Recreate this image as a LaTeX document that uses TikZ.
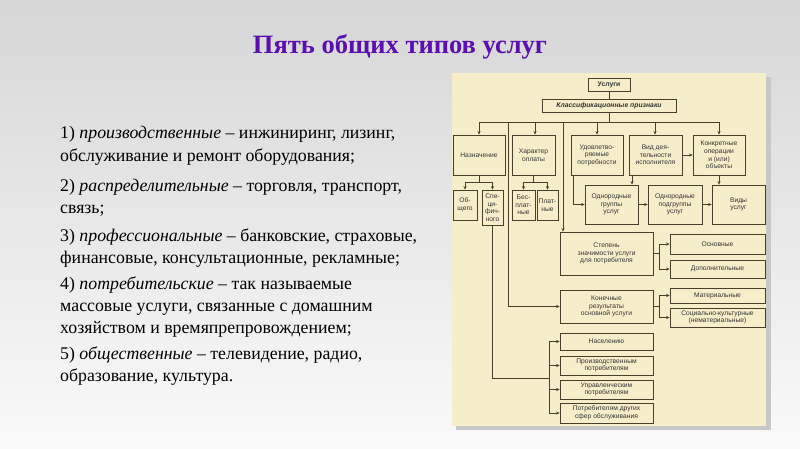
\documentclass[tikz,border=0pt]{standalone}
\usepackage{fontspec}
\setmainfont{Liberation Serif}
\newfontfamily\diagfont{Liberation Sans}
\usetikzlibrary{arrows.meta}
\definecolor{panel}{HTML}{F6EECB}
\definecolor{boxc}{HTML}{4A3F2A}
\definecolor{ttl}{HTML}{5A10B0}
\begin{document}
\begin{tikzpicture}[x=1pt,y=-1pt,
  box/.style={draw=boxc,fill=panel,line width=0.8pt,inner sep=0pt,align=center,
    font=\diagfont\fontsize{6.7}{7.6}\selectfont,text=black!80},
  ln/.style={draw=boxc,line width=0.8pt},
  ar/.style={ln,-{Stealth[length=3.5pt,width=3.2pt]}},
  txt/.style={anchor=base west,font=\fontsize{17.8}{20}\selectfont,inner sep=0pt}]
\useasboundingbox (0,0) rectangle (800,449);
\shade[top color=black!16,bottom color=black!2] (0,0) rectangle (800,449);
\fill[black!22] (766,77) rectangle (771,430);
\fill[black!22] (456,426) rectangle (771,430);
\fill[panel] (452,73) rectangle (766,426);
\node[font=\bfseries\fontsize{26.5}{30}\selectfont,text=ttl] (title) at (400,47) {Пять общих типов услуг};
\node[txt] (t1) at (60,139) {1) \textit{производственные} – инжиниринг, лизинг,};
\node[txt] (t2) at (60,162) {обслуживание и ремонт оборудования;};
\node[txt] (t3) at (60,192) {2) \textit{распределительные} – торговля, транспорт,};
\node[txt] (t4) at (60,214) {связь;};
\node[txt] (t5) at (60,241) {3) \textit{профессиональные} – банковские, страховые,};
\node[txt] (t6) at (60,263) {финансовые, консультационные, рекламные;};
\node[txt] (t7) at (60,289) {4) \textit{потребительские} – так называемые};
\node[txt] (t8) at (60,311) {массовые услуги, связанные с домашним};
\node[txt] (t9) at (60,333) {хозяйством и времяпрепровождением;};
\node[txt] (t10) at (60,359) {5) \textit{общественные} – телевидение, радио,};
\node[txt] (t11) at (60,381) {образование, культура.};
% boxes
\node[box,minimum width=42pt,minimum height=13pt,font=\diagfont\bfseries\fontsize{6.8}{7.6}\selectfont] (u) at (609,84.5) {Услуги};
\node[box,minimum width=134pt,minimum height=13pt,font=\diagfont\bfseries\itshape\fontsize{6.8}{7.6}\selectfont] (k) at (609,105.5) {Классификационные признаки};
\node[box,minimum width=52pt,minimum height=40pt] (naz) at (479,155) {Назначение};
\node[box,minimum width=43pt,minimum height=40pt] (har) at (533.5,155) {Характер\\оплаты};
\node[box,minimum width=52pt,minimum height=40pt] (udv) at (597,155) {Удовлетво-\\ряемые\\потребности};
\node[box,minimum width=53pt,minimum height=40pt] (vid) at (655.5,155) {Вид дея-\\тельности\\исполнителя};
\node[box,minimum width=52pt,minimum height=40pt] (kon) at (719,155) {Конкретные\\операции\\и (или)\\объекты};
\node[box,minimum width=24pt,minimum height=30pt] (ob) at (465,205) {Об-\\щего};
\node[box,minimum width=21pt,minimum height=35pt] (spec) at (492.5,207.5) {Спе-\\ци-\\фич-\\ного};
\node[box,minimum width=23pt,minimum height=30pt] (bes) at (523.5,205) {Бес-\\плат-\\ные};
\node[box,minimum width=21pt,minimum height=30pt] (pla) at (547.5,205) {Плат-\\ные};
\node[box,minimum width=53pt,minimum height=39pt] (grp) at (611.5,204.5) {Однородные\\группы\\услуг};
\node[box,minimum width=54pt,minimum height=39pt] (pod) at (675,204.5) {Однородные\\подгруппы\\услуг};
\node[box,minimum width=53pt,minimum height=39pt] (vidy) at (738.5,204.5) {Виды\\услуг};
\node[box,minimum width=93pt,minimum height=43pt] (st) at (606.5,253.5) {Степень\\значимости услуги\\для потребителя};
\node[box,minimum width=95pt,minimum height=20pt] (osn) at (717.5,244) {Основные};
\node[box,minimum width=95pt,minimum height=18pt] (dop) at (717.5,269) {Дополнительные};
\node[box,minimum width=93pt,minimum height=33pt] (kn) at (606.5,306.5) {Конечные\\результаты\\основной услуги};
\node[box,minimum width=95pt,minimum height=15pt] (mat) at (717.5,295.5) {Материальные};
\node[box,minimum width=95pt,minimum height=19pt] (soc) at (717.5,317.5) {Социально-культурные\\(нематериальные)};
\node[box,minimum width=93pt,minimum height=17pt] (nas) at (606.5,341.5) {Населению};
\node[box,minimum width=93pt,minimum height=19pt] (pr) at (606.5,365.5) {Производственным\\потребителям};
\node[box,minimum width=93pt,minimum height=19pt] (up) at (606.5,389.5) {Управленческим\\потребителям};
\node[box,minimum width=93pt,minimum height=20pt] (dr) at (606.5,413) {Потребителям других\\сфер обслуживания};
% coordinates
\coordinate (bL) at (479,122); \coordinate (bR) at (719,122);
\coordinate (bk) at (609,122);
\coordinate (c1) at (508,122); \coordinate (c2) at (563,122);
\coordinate (h1) at (535,122); \coordinate (h2) at (597,122); \coordinate (h3) at (655,122);
\coordinate (g1) at (632,175);
% connectors
\draw[ln] (u) -- (k);
\draw[ln] (k) -- (bk);
\draw[ln] (bL) -- (bR);
\draw[ar] (bL) -- (naz.north);
\draw[ar] (h1) -- (h1 |- har.north);
\draw[ar] (h2) -- (udv.north);
\draw[ar] (h3) -- (h3 |- vid.north);
\draw[ar] (bR) -- (kon.north);
\draw[ar] (c1) |- (kn.west);
\draw[ar] (c2) -- (c2 |- st.north);
\draw[ar] (vid.east) -- (kon.west);
\coordinate (n1) at (479,182); \coordinate (n2) at (533.5,182);
\draw[ln] (naz.south) -- (n1);
\draw[ln] (465,182) -- (492.5,182);
\draw[ar] (465,182) -- (ob.north);
\draw[ar] (492.5,182) -- (spec.north);
\draw[ln] (har.south) -- (n2);
\draw[ln] (523.5,182) -- (547.5,182);
\draw[ar] (523.5,182) -- (bes.north);
\draw[ar] (547.5,182) -- (pla.north);
\draw[ar] (573,175) |- (grp.west);
\draw[ar] (g1) -- (g1 |- grp.north);
\draw[ar] (grp) -- (pod);
\draw[ar] (pod) -- (vidy);
\draw[ar] (kon.south) -- (kon.south |- vidy.north);
\coordinate (s1) at (659,253.5);
\draw[ln] (st.east) -- (s1);
\draw[ln] (659,244) -- (659,269);
\draw[ar] (659,244) -- (osn.west);
\draw[ar] (659,269) -- (dop.west);
\coordinate (s2) at (659,306.5);
\draw[ln] (kn.east) -- (s2);
\draw[ln] (659,295.5) -- (659,317.5);
\draw[ar] (659,295.5) -- (mat.west);
\draw[ar] (659,317.5) -- (soc.west);
\coordinate (p1) at (549,378);
\draw[ln] (spec.south) |- (p1);
\draw[ln] (549,341.5) -- (549,413);
\draw[ar] (549,341.5) -- (nas.west);
\draw[ar] (549,365.5) -- (pr.west);
\draw[ar] (549,389.5) -- (up.west);
\draw[ar] (549,413) -- (dr.west);
\end{tikzpicture}
\end{document}
